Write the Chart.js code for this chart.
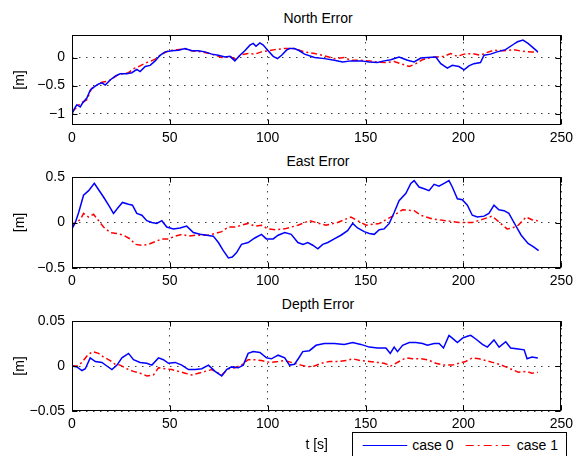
<!DOCTYPE html>
<html>
<head>
<meta charset="utf-8">
<script src="https://cdn.jsdelivr.net/npm/chart.js@4.4.1/dist/chart.umd.min.js"></script>
<style>
  body { margin: 0; background: #fff; width: 578px; height: 456px; position: relative; overflow: hidden;
         font-family: 'Liberation Sans', Arial, sans-serif; color: #000; }
  canvas { position: absolute; left: 0; }
  .ttl { position: absolute; left: 72px; width: 492px; text-align: center; font-size: 14px; line-height: 16px; }
  #legend { position: absolute; left: 352px; top: 432px; width: 213px; height: 40px; border: 1px solid #000; background: #fff; }
  #legend svg { position: absolute; left: 0; top: 0; }
  #legend span { position: absolute; top: 4px; font-size: 14px; line-height: 16px; white-space: nowrap; }
</style>
</head>
<body>
<div class="ttl" style="top:10px">North Error</div>
<div class="ttl" style="top:153px">East Error</div>
<div class="ttl" style="top:296px">Depth Error</div>
<canvas id="north" width="578" height="147" style="top:3px"></canvas>
<canvas id="east" width="578" height="148" style="top:145px"></canvas>
<canvas id="depth" width="578" height="167" style="top:289px"></canvas>
<div id="legend"></div>

<script>
// ===== Data =====
const seriesNames = ['case 0', 'case 1'];
const seriesColors = ['#0000ff', '#ff0000'];
const xTicks = [0, 50, 100, 150, 200, 250];

// North
const northTicks = [-1, -0.5, 0];
const northTickLabels = ['\u22121', '\u22120.5', '0'];
const northT0 = [0, 1.4, 2.5, 4.2, 5.4, 7.6, 9.3, 11, 13.6, 15.3, 17, 19.5, 22.1, 24.6, 28, 30.6, 33.1, 34.8, 37.4, 39.9,
  42.5, 45, 47.6, 51, 54.4, 57.8, 61.2, 64.6, 68, 71.4, 74.8, 78.2, 80.7, 83.2, 85.8, 88.3, 90.9, 92.6, 94, 96,
  97.7, 100.2, 102.8, 105, 107.1, 109.6, 111.1, 113.7, 116.2, 118.8, 123.9, 129, 134, 138.3, 142.5, 147.6, 151.9, 156.1, 159.5, 162.9,
  167.1, 171.4, 174.8, 178.2, 181.6, 185.9, 188.4, 191.8, 194.3, 197.7, 200.3, 202.8, 205.3, 208.7, 210.5, 213.8, 217.2, 221.5, 225.8, 227.6,
  230.4, 233, 237, 238];
const northCase0 = [-1.0, -0.9, -0.84, -0.88, -0.81, -0.72, -0.58, -0.53, -0.47, -0.45, -0.49, -0.40, -0.33, -0.29, -0.29, -0.27, -0.21, -0.25, -0.16, -0.14,
  -0.06, 0.04, 0.10, 0.12, 0.13, 0.16, 0.12, 0.12, 0.10, 0.06, 0.04, 0.01, 0.02, -0.06, 0.04, 0.12, 0.22, 0.25, 0.20, 0.26,
  0.22, 0.12, 0.02, -0.02, 0.04, 0.13, 0.16, 0.16, 0.12, 0.06, 0.0, -0.02, -0.05, -0.08, -0.06, -0.06, -0.08, -0.09, -0.06, -0.04,
  0.01, -0.05, -0.08, -0.01, 0.0, 0.01, -0.11, -0.19, -0.14, -0.16, -0.22, -0.15, -0.11, -0.09, 0.04, 0.06, 0.10, 0.14, 0.24, 0.28,
  0.31, 0.25, 0.13, 0.1];
const northT1 = [0, 4.2, 7.6, 10, 15.3, 18.7, 23.8, 28.9, 31.4, 34.8, 37.4, 39.9, 42.5, 45.9, 49.3, 53.6, 57.8, 61.2, 66.3, 71.4,
  76.5, 80.7, 83.2, 86.6, 90, 93.4, 96.8, 100.2, 103.6, 108.7, 113, 118.8, 124, 129, 134, 139, 142.5, 147.6, 151.9, 156,
  161.2, 164.6, 168.8, 172.3, 175.7, 179, 183.3, 186.7, 190.1, 193.5, 196.9, 200.3, 204.5, 208.7, 211.2, 215.5, 220.5, 225.8, 230, 235, 238];
const northCase1 = [-0.97, -0.82, -0.75, -0.55, -0.44, -0.42, -0.30, -0.27, -0.20, -0.15, -0.10, -0.07, -0.03, 0.06, 0.12, 0.14, 0.15, 0.12, 0.10, 0.06,
  0.0, 0.02, -0.03, 0.05, 0.07, 0.06, 0.10, 0.12, 0.14, 0.16, 0.16, 0.10, 0.07, 0.03, -0.02, 0.0, -0.05, -0.05, -0.06, -0.08,
  -0.09, -0.07, -0.12, -0.16, -0.11, -0.04, 0.0, 0.01, 0.02, 0.07, 0.02, 0.06, 0.07, 0.04, 0.08, 0.13, 0.12, 0.14, 0.11, 0.10, 0.10];

// East
const eastTicks = [-0.5, 0, 0.5];
const eastTickLabels = ['\u22120.5', '0', '0.5'];
const eastT0 = [0, 1.7, 3.4, 5.9, 8.5, 11.4, 13.6, 16.1, 18.7, 21.2, 23.8, 25.8, 28.9, 30.9, 33.1, 35.7, 38.2, 40.8, 43.3, 45.9,
  48.4, 51.8, 55.2, 58.6, 62, 65.4, 68.8, 72.2, 74.8, 77.3, 79.9, 81.9, 84.1, 86.6, 90, 93.4, 96.8, 99.3, 102.8, 105.3,
  108.7, 112, 115.4, 118, 120.5, 123, 125.6, 128.1, 130.7, 134, 137.4, 140.8, 143.4, 145.9, 149.3, 151.9, 154.4, 157, 159.5, 162.1,
  164.6, 167.1, 170.6, 173.1, 174.8, 177.3, 179.9, 182.4, 185, 187.5, 190.1, 192.6, 194.3, 196.9, 199.4, 202, 204.5, 207.1, 210.5, 213,
  215.6, 218.1, 220.7, 223.2, 225.8, 229.5, 233, 236, 238.4];
const eastCase0 = [-0.07, 0.0, 0.11, 0.30, 0.35, 0.43, 0.36, 0.28, 0.19, 0.10, 0.17, 0.22, 0.20, 0.19, 0.10, 0.08, 0.02, 0.0, -0.01, 0.02,
  -0.05, -0.07, -0.06, -0.04, -0.11, -0.13, -0.14, -0.15, -0.22, -0.31, -0.39, -0.38, -0.33, -0.24, -0.22, -0.17, -0.13, -0.18, -0.18, -0.14,
  -0.11, -0.13, -0.22, -0.24, -0.22, -0.25, -0.29, -0.24, -0.22, -0.18, -0.14, -0.09, -0.01, -0.06, -0.10, -0.12, -0.13, -0.08, -0.07, -0.01,
  0.11, 0.24, 0.32, 0.43, 0.46, 0.39, 0.37, 0.35, 0.42, 0.40, 0.43, 0.46, 0.39, 0.26, 0.25, 0.19, 0.08, 0.06, 0.07, 0.10,
  0.19, 0.14, 0.13, 0.10, 0.0, -0.14, -0.23, -0.27, -0.31];
const eastT1 = [0, 1.7, 4.2, 5.9, 8.5, 11, 13.6, 16.1, 19.5, 22.9, 26.3, 29.7, 32.3, 35.7, 39.1, 42.5, 45.9, 49.3, 52.7, 56.1,
  59.5, 62.9, 66.3, 69.7, 73.1, 76.5, 79.9, 83.3, 86.6, 90, 93.4, 96.8, 100.2, 104.4, 108.7, 115.4, 121.3, 129.8, 135.7, 142.5,
  150.2, 157, 164.6, 168.9, 174.8, 178.2, 184.1, 190.9, 197.7, 204.5, 210.5, 214.7, 219, 222.3, 225, 228, 232, 235, 238];
const eastCase1 = [-0.05, 0.0, 0.03, 0.10, 0.06, 0.09, 0.02, -0.05, -0.11, -0.12, -0.14, -0.18, -0.24, -0.25, -0.24, -0.21, -0.18, -0.18, -0.15, -0.13,
  -0.15, -0.14, -0.14, -0.14, -0.12, -0.10, -0.05, -0.05, -0.03, -0.01, -0.04, -0.03, -0.07, -0.08, -0.07, -0.03, 0.02, -0.03, 0.0, 0.06,
  -0.03, -0.01, 0.08, 0.14, 0.13, 0.08, 0.04, 0.02, 0.0, 0.0, 0.04, 0.07, -0.01, -0.07, -0.06, -0.03, 0.06, 0.03, 0.02];

// Depth
const depthTicks = [-0.05, 0, 0.05];
const depthTickLabels = ['\u22120.05', '0', '0.05'];
const depthT0 = [0, 2.5, 5.1, 6.8, 9.3, 11.9, 15.3, 17.8, 20.4, 23, 25.5, 28.9, 31.4, 34.8, 38.2, 40.8, 44.2, 46.7, 49.3, 52.7,
  56.1, 59.5, 62.9, 66.3, 69.7, 73.1, 76.5, 79, 81.5, 84.9, 87.5, 90, 92.6, 96, 99.4, 101.9, 105.3, 108.7, 111.1, 113.7,
  116.2, 117.9, 121.3, 124.7, 128.9, 134, 139.1, 143.4, 147.6, 151.9, 156.1, 160.4, 162.6, 164.6, 166.3, 168.9, 172.3, 175.7, 179.1, 181.6,
  185, 187.6, 189.8, 192.6, 194.3, 196.9, 199.5, 202, 203.7, 206.3, 209.7, 212.2, 215.6, 218.2, 221.6, 224.1, 228, 231, 232.5, 235, 238];
const depthCase0 = [0, -0.001, -0.005, -0.003, 0.009, 0.005, 0.004, 0.0, -0.004, 0.001, 0.009, 0.014, 0.007, 0.004, 0.003, 0.001, 0.009, 0.007, 0.003, 0.004,
  0.001, -0.004, -0.004, -0.003, 0.001, -0.006, -0.011, -0.004, -0.001, -0.002, 0.001, 0.014, 0.016, 0.015, 0.009, 0.008, 0.012, 0.009, 0.001, 0.002,
  0.010, 0.016, 0.017, 0.023, 0.025, 0.025, 0.024, 0.026, 0.024, 0.021, 0.020, 0.020, 0.014, 0.021, 0.016, 0.023, 0.026, 0.026, 0.025, 0.023,
  0.025, 0.025, 0.020, 0.034, 0.031, 0.026, 0.031, 0.033, 0.034, 0.030, 0.024, 0.021, 0.029, 0.021, 0.027, 0.020, 0.019, 0.018, 0.008, 0.010, 0.009];
const depthT1 = [0, 3, 5, 8, 10.5, 13.6, 16.1, 19.5, 22, 24.6, 28, 31.4, 34.8, 38.2, 41.6, 44.2, 47.6, 51, 54.4, 57.8,
  61.2, 64.6, 68, 71.4, 74.8, 76.5, 79.9, 83.2, 86.6, 90, 93.4, 96.8, 101, 105.3, 108.7, 112, 117, 120.5, 123.9, 127.3,
  131.5, 135.8, 140, 143.4, 147.6, 151.9, 156.1, 159.5, 162.9, 167.1, 170.6, 174, 178.2, 181.6, 185.9, 190.1, 194.3, 197.7, 201.1, 204.6,
  208, 211.4, 214.8, 218.2, 221.6, 225, 228, 232, 235, 238];
const depthCase1 = [0, 0.0, 0.004, 0.012, 0.016, 0.014, 0.010, 0.006, 0.002, 0.001, -0.003, -0.006, -0.008, -0.011, -0.010, -0.002, -0.003, -0.004, -0.006, -0.008,
  -0.010, -0.008, -0.006, -0.004, -0.008, -0.010, -0.003, -0.002, 0.001, 0.007, 0.007, 0.006, 0.004, 0.005, 0.006, 0.004, 0.001, -0.001, 0.0, 0.003,
  0.005, 0.005, 0.006, 0.008, 0.006, 0.005, 0.004, 0.003, 0.0, 0.005, 0.009, 0.008, 0.008, 0.007, 0.003, 0.001, 0.001, 0.003, 0.005, 0.009,
  0.008, 0.006, 0.004, 0.002, -0.001, -0.004, -0.007, -0.006, -0.008, -0.007];

// ===== Drawing =====
const FONT = { family: "'Liberation Sans', Arial, sans-serif", size: 14 };
const PAD_TOP = 32;

// MATLAB-style box with inward ticks on all four sides
const framePlugin = {
  id: 'frame',
  afterDatasetsDraw(chart) {
    const { ctx, chartArea: a, scales: { x, y } } = chart;
    const L = Math.round(a.left) + 0.5, R = Math.round(a.right) - 0.5;
    const T = Math.round(a.top) + 0.5, B = Math.round(a.bottom) - 0.5;
    ctx.save();
    ctx.strokeStyle = '#000';
    ctx.lineWidth = 1;
    ctx.setLineDash([]);
    ctx.beginPath();
    x.ticks.forEach(t => {
      const px = Math.round(x.getPixelForValue(t.value)) + 0.5;
      ctx.moveTo(px, B); ctx.lineTo(px, B - 5);
      ctx.moveTo(px, T); ctx.lineTo(px, T + 5);
    });
    y.ticks.forEach(t => {
      const py = Math.round(y.getPixelForValue(t.value)) + 0.5;
      ctx.moveTo(L, py); ctx.lineTo(L + 5, py);
      ctx.moveTo(R, py); ctx.lineTo(R - 5, py);
    });
    ctx.stroke();
    ctx.strokeRect(L, T, R - L, B - T);
    ctx.restore();
  }
};

function series(ts, vs, i) {
  return {
    label: seriesNames[i],
    data: ts.map((t, k) => ({ x: t, y: vs[k] })),
    borderColor: seriesColors[i],
    borderWidth: 1.5,
    borderDash: i === 1 ? [6, 3, 2, 3] : [],
    pointRadius: 0,
    tension: 0,
    fill: false
  };
}

function panel(id, yMin, yMax, yTicks, yLabels, sets, xAxisHeight, xTitle) {
  return new Chart(document.getElementById(id), {
    type: 'line',
    data: { datasets: sets },
    plugins: [framePlugin],
    options: {
      responsive: false,
      animation: false,
      devicePixelRatio: 1,
      layout: { padding: { top: PAD_TOP, right: 14, left: 0, bottom: 0 } },
      plugins: { legend: { display: false }, tooltip: { enabled: false } },
      scales: {
        x: {
          type: 'linear', min: 0, max: 250,
          afterBuildTicks: s => { s.ticks = xTicks.map(v => ({ value: v })); },
          afterFit: s => { s.height = xAxisHeight; },
          ticks: { color: '#000', font: FONT, padding: 5, maxRotation: 0, autoSkip: false, callback: v => String(v) },
          grid: { color: 'rgba(0,0,0,0.75)', lineWidth: 1, drawTicks: false },
          border: { display: false, dash: [1.5, 5.5] },
          title: { display: !!xTitle, text: xTitle || '', color: '#000', font: FONT, padding: { top: 0, bottom: 2.6 } }
        },
        y: {
          type: 'linear', min: yMin, max: yMax,
          afterBuildTicks: s => { s.ticks = yTicks.map(v => ({ value: v })); },
          afterFit: s => { s.width = 72; },
          ticks: { color: '#000', font: FONT, padding: 7, callback: (v, i) => yLabels[i] },
          grid: { color: 'rgba(0,0,0,0.75)', lineWidth: 1, drawTicks: false },
          border: { display: false, dash: [1.5, 5.5] },
          title: { display: true, text: '[m]', color: '#000', font: FONT, padding: { top: 12, bottom: 0 } }
        }
      }
    }
  });
}

panel('north', -1.2, 0.4, northTicks, northTickLabels,
  [series(northT0, northCase0, 0), series(northT1, northCase1, 1)], 25);
panel('east', -0.5, 0.5, eastTicks, eastTickLabels,
  [series(eastT0, eastCase0, 0), series(eastT1, eastCase1, 1)], 25);
panel('depth', -0.05, 0.05, depthTicks, depthTickLabels,
  [series(depthT0, depthCase0, 0), series(depthT1, depthCase1, 1)], 45, 't [s]');

// Legend (MATLAB boxed legend at the bottom right)
const legendEl = document.getElementById('legend');
legendEl.innerHTML = `
  <svg width="213" height="40">
    <line x1="9.7" y1="12.5" x2="54.3" y2="12.5" stroke="${seriesColors[0]}" stroke-width="1"/>
    <line x1="112.7" y1="12.5" x2="158.7" y2="12.5" stroke="${seriesColors[1]}" stroke-width="1" stroke-dasharray="8 4 2 4"/>
  </svg>
  <span style="left:59.3px">${seriesNames[0]}</span>
  <span style="left:163.7px">${seriesNames[1]}</span>`;
</script>
</body>
</html>
